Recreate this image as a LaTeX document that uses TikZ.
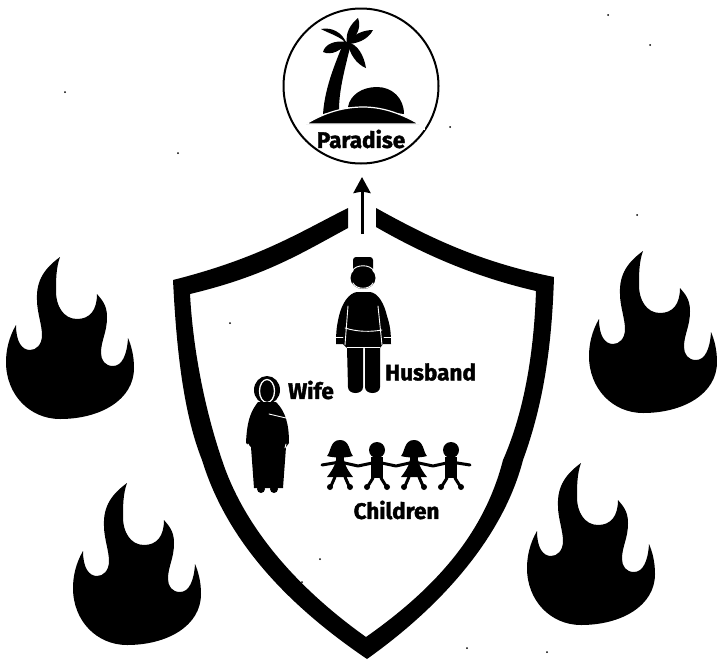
\documentclass[tikz,border=0pt]{standalone}
\usepackage{fontspec}
\setmainfont{Fira Sans}[BoldFeatures={FakeBold=1.6}]
\usetikzlibrary{arrows.meta}
\tikzset{
  gap line/.style={draw=white, line width=0.9pt, line cap=round},
  limb/.style={draw=black, line width=3pt, line cap=round, line join=round},
  tag/.style={font=\bfseries\fontsize{22.5}{22.5}\selectfont, inner sep=0pt},
  speck/.style={circle, fill=black, inner sep=0pt, minimum size=2pt},
  flame/.pic={
    \fill (60,257) .. controls (45,268) and (36,280) .. (37,300)
      .. controls (37,312) and (42,325) .. (42,335)
      .. controls (42,345) and (36,350) .. (30,350)
      .. controls (22,350) and (16,342) .. (16,325)
      .. controls (9,337) and (6,350) .. (6,362)
      .. controls (6,395) and (30,419) .. (60,419)
      .. controls (100,419) and (134,400) .. (134,368)
      .. controls (134,355) and (131,345) .. (128,338)
      .. controls (127,355) and (122,366) .. (113,366)
      .. controls (105,366) and (101,360) .. (101,353)
      .. controls (101,340) and (107,333) .. (107,317)
      .. controls (107,305) and (102,300) .. (97,294)
      .. controls (97,310) and (90,319) .. (77,319)
      .. controls (63,319) and (56,305) .. (56,292)
      .. controls (56,280) and (56,268) .. (60,257) -- cycle;
  },
  girl/.pic={
    \fill (-13,8) .. controls (-9,4) and (-10,-8) .. (0,-8)
      .. controls (10,-8) and (9,4) .. (13,8)
      .. controls (6,10) and (-6,10) .. (-13,8) -- cycle;
    \fill (-4,8) rectangle (4,14);
    \fill (-4,12) -- (4,12) .. controls (5,18) and (9,24) .. (13,29) -- (-13,29)
      .. controls (-9,24) and (-5,18) .. (-4,12) -- cycle;
    \draw[limb] (-5,29) -- (-9,38);
    \draw[limb] (5,29) -- (9,38);
    \fill (-10,39) circle (3) (10,39) circle (3);
  },
  boy/.pic={
    \fill (0,0) circle (8);
    \fill (-6,7) rectangle (6,28);
    \draw[limb] (-4,28) -- (-9,36);
    \draw[limb] (4,28) -- (9,36);
    \fill (-10,37) circle (3) (10,37) circle (3);
  }
}
\begin{document}
\begin{tikzpicture}[x=1pt, y=-1pt, >=Stealth]
  \useasboundingbox (0,0) rectangle (717,662);

  % flames round the shield
  \foreach \dx/\dy in {0/0, 67/226, 583/-6, 521/206} {
    \pic at (\dx,\dy) {flame};
  }

  % shield
  \fill (348,208) .. controls (300,232) and (260,258) .. (173,280)
    .. controls (176,340) and (182,410) .. (202,460)
    .. controls (225,535) and (280,600) .. (367,659)
    .. controls (450,600) and (505,530) .. (523,460)
    .. controls (545,400) and (552,340) .. (554,277)
    .. controls (480,262) and (430,238) .. (376,208)
    -- (376,227)
    .. controls (430,258) and (480,278) .. (536,291)
    .. controls (534,350) and (525,410) .. (503,460)
    .. controls (485,530) and (440,585) .. (366,637)
    .. controls (300,590) and (245,530) .. (222,460)
    .. controls (205,410) and (193,350) .. (190,294)
    .. controls (265,276) and (300,254) .. (348,228) -- cycle;

  % paradise badge
  \node[circle, draw=black, line width=2pt, minimum size=155pt, inner sep=0pt] (paradise) at (361,86) {};
  \fill (323,114) .. controls (325,85) and (337,60) .. (344,41)
    -- (351,43) .. controls (346,65) and (339,88) .. (339,110) -- cycle;
  % palm fronds
  \fill (347,44) .. controls (345,32) and (351,24) .. (358,18)
    .. controls (362,28) and (356,38) .. (347,44) -- cycle;
  \fill (347,44) .. controls (340,36) and (330,34) .. (321,29)
    .. controls (332,27) and (342,32) .. (347,44) -- cycle;
  \fill (347,42) .. controls (335,40) and (325,44) .. (323,52)
    .. controls (332,56) and (342,50) .. (347,42) -- cycle;
  \fill (347,44) .. controls (352,34) and (364,30) .. (373,30)
    .. controls (368,40) and (356,44) .. (347,44) -- cycle;
  \fill (347,42) .. controls (358,44) and (364,56) .. (366,68)
    .. controls (356,64) and (350,54) .. (347,42) -- cycle;
  % sun and island
  \fill (348,107) .. controls (350,95) and (362,87) .. (377,87)
    .. controls (392,87) and (404,98) .. (404,114) -- cycle;
  \fill[draw=white, line width=1.2pt] (306,124) .. controls (325,112) and (345,107) .. (363,107)
    .. controls (382,107) and (400,113) .. (419,124) -- cycle;
  \fill[white] (300,125) rectangle (425,130);
  \node[tag] (paradise label) at (361,139) {Paradise};

  % arrow up to the badge
  \coordinate (shield gap) at (362,234);
  \coordinate (badge foot) at (362,164);
  \draw[-{Stealth[length=16pt, width=17pt, inset=1.5pt]}, line width=3pt, shorten >=13pt] (shield gap) -- (badge foot);

  % husband
  \fill[rounded corners=3pt] (353,257) rectangle (373,272);
  \fill (363,278) ellipse (12.5 and 11);
  \draw[gap line] (352,271) .. controls (356,264) and (370,264) .. (374,271);
  \draw[gap line] (353,283) .. controls (356,290) and (370,290) .. (373,283);
  \fill (357,292) -- (370,292) .. controls (378,293) and (384,303) .. (387,316)
    .. controls (390,325) and (391,332) .. (391,344) -- (383,344) -- (380,348) -- (347,348)
    -- (343,344) -- (336,344) .. controls (336,330) and (337,325) .. (339,316)
    .. controls (342,303) and (349,293) .. (357,292) -- cycle;
  \draw[gap line] (348,306) -- (345,345);
  \draw[gap line] (378,306) -- (382,345);
  \draw[gap line] (345,328) .. controls (358,332) and (370,332) .. (382,330);
  \draw[gap line] (336,337) -- (343,337);
  \draw[gap line] (384,337) -- (391,337);
  \draw[gap line] (347,347) -- (380,347);
  \fill (347,348) -- (363,348) -- (363,387) .. controls (363,395) and (348,395) .. (348,387) -- cycle;
  \fill (365,348) -- (380,348) -- (380,387) .. controls (380,395) and (365,395) .. (365,387) -- cycle;
  \node[tag, anchor=west] (husband label) at (385,372) {Husband};

  % wife
  \fill (267,390) ellipse (13 and 14);
  \draw[draw=white, line width=1.3pt] (267,391) ellipse (7.5 and 11.5);
  \fill (258,402) .. controls (252,410) and (247,418) .. (246,443)
    -- (251,447) -- (254,488) -- (283,488) -- (286,447) -- (289,443)
    .. controls (289,425) and (286,412) .. (276,402) -- cycle;
  \fill (261,489) circle (4) (274,489) circle (4);
  \draw[gap line] (269,414) -- (286,418);
  \draw[gap line] (248,444) -- (250,448);
  \draw[gap line] (286,444) -- (285,448);
  \node[tag, anchor=west] (wife label) at (288,390) {Wife};

  % children holding hands
  \draw[limb] (322,465) -- (340,462) -- (358,466) -- (377,462) -- (396,466) -- (414,462) -- (433,466) -- (451,462) -- (470,465);
  \foreach \x in {340,414} {
    \pic at (\x,448) {girl};
  }
  \foreach \x in {377,451} {
    \pic at (\x,450) {boy};
  }
  \node[tag, anchor=center] (children label) at (396.5,510) {Children};

  % specks of the scan
  \foreach \x/\y in {65/92, 178/153, 230/323, 450/127, 637/215, 650/45, 608/15, 320/559, 302/582, 467/648, 547/652} {
    \node[speck] (speck \x) at (\x,\y) {};
  }
\end{tikzpicture}
\end{document}
